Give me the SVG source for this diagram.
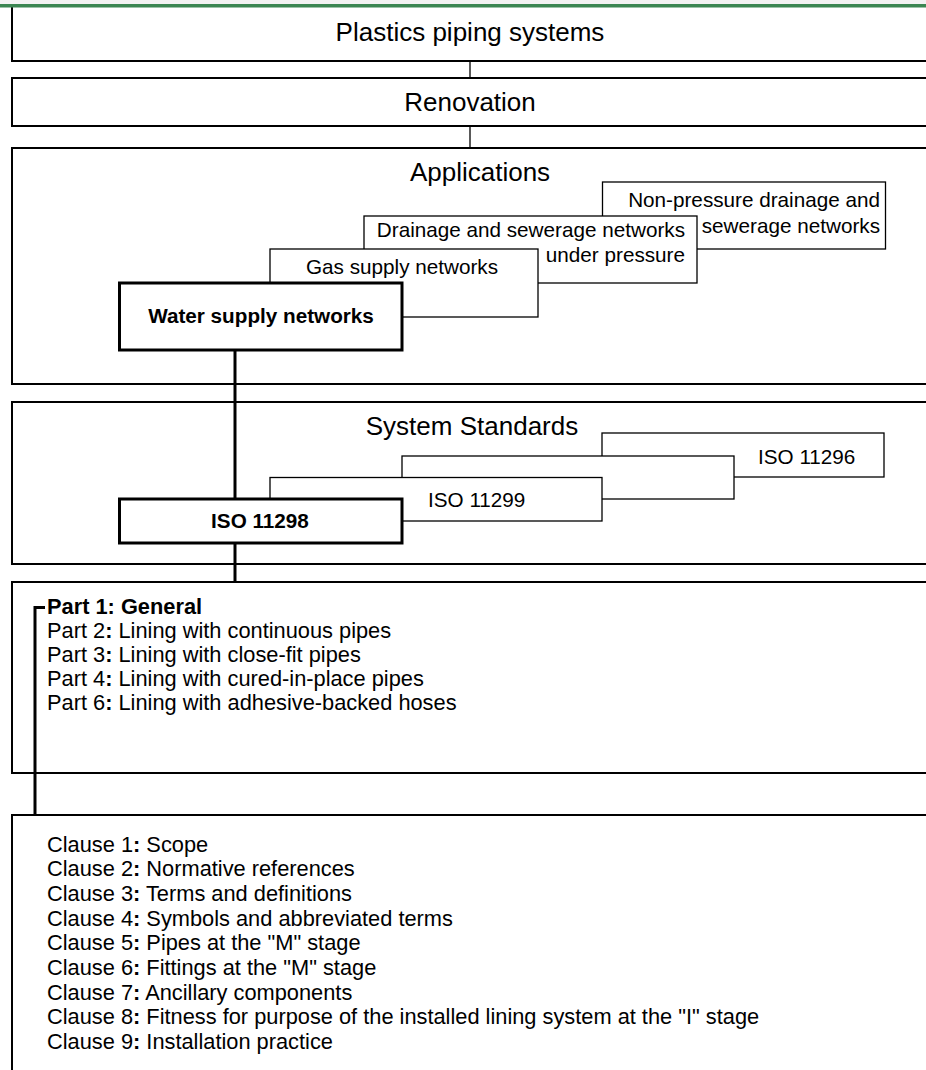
<svg xmlns="http://www.w3.org/2000/svg" width="926" height="1070" viewBox="0 0 926 1070">
<style>
.frame{fill:#fff;stroke:#000;stroke-width:2}
.sub{fill:#fff;stroke:#000;stroke-width:1.3}
.strong{fill:#fff;stroke:#000;stroke-width:3}
.t{font-family:"Liberation Sans",Arial,Helvetica,sans-serif;font-size:20.7px;fill:#000}
.title{font-size:26px}
.list{font-size:21.8px}
.b{font-weight:bold}
.thin{stroke:#000;stroke-width:1.3;fill:none}
.thick{stroke:#000;stroke-width:3;fill:none}
</style>
<rect x="0" y="0" width="926" height="1070" fill="#fff"/>

<g id="plastics-piping-systems">
<rect class="frame" x="12" y="5" width="930" height="56"/>
<text class="t title" x="470" y="41" text-anchor="middle">Plastics piping systems</text>
</g>

<g id="renovation">
<rect class="frame" x="12" y="78" width="930" height="48"/>
<text class="t title" x="470" y="111" text-anchor="middle">Renovation</text>
</g>

<g id="applications">
<rect class="frame" x="12" y="148" width="930" height="236"/>
<text class="t title" x="480" y="181" text-anchor="middle">Applications</text>
</g>

<g id="non-pressure-drainage">
<rect class="sub" x="602.5" y="182" width="283" height="67"/>
<text class="t" x="880" y="207" text-anchor="end">Non-pressure drainage and</text>
<text class="t" x="880" y="233" text-anchor="end">sewerage networks</text>
</g>

<g id="drainage-under-pressure">
<rect class="sub" x="364" y="216" width="333" height="67"/>
<text class="t" x="685" y="237" text-anchor="end">Drainage and sewerage networks</text>
<text class="t" x="685" y="262" text-anchor="end">under pressure</text>
</g>

<g id="gas-supply">
<rect class="sub" x="270" y="249" width="268" height="68"/>
<text class="t" x="402" y="274" text-anchor="middle">Gas supply networks</text>
</g>

<g id="water-supply">
<rect class="strong" x="119.5" y="283" width="282.5" height="67"/>
<text class="t b" x="261" y="323" text-anchor="middle">Water supply networks</text>
</g>

<g id="system-standards">
<rect class="frame" x="12" y="402" width="930" height="162"/>
<text class="t title" x="472" y="435" text-anchor="middle">System Standards</text>
</g>

<g id="iso-11296">
<rect class="sub" x="602" y="433" width="282" height="44"/>
<text class="t" x="758" y="464">ISO 11296</text>
</g>

<g id="iso-back">
<rect class="sub" x="402" y="456" width="332" height="43"/>
</g>

<g id="iso-11299">
<rect class="sub" x="270" y="477.5" width="332" height="43.5"/>
<text class="t" x="428" y="507">ISO 11299</text>
</g>

<g id="iso-11298">
<rect class="strong" x="119.5" y="499" width="282.5" height="44"/>
<text class="t b" x="260" y="528" text-anchor="middle">ISO 11298</text>
</g>

<g id="parts">
<rect class="frame" x="12" y="582" width="930" height="191"/>
<text class="t list" x="47" y="613.5"><tspan class="b">Part 1: General</tspan></text>
<text class="t list" x="47" y="637.5">Part 2<tspan class="b">:</tspan> Lining with continuous pipes</text>
<text class="t list" x="47" y="661.5">Part 3<tspan class="b">:</tspan> Lining with close-fit pipes</text>
<text class="t list" x="47" y="685.5">Part 4<tspan class="b">:</tspan> Lining with cured-in-place pipes</text>
<text class="t list" x="47" y="709.5">Part 6<tspan class="b">:</tspan> Lining with adhesive-backed hoses</text>
</g>

<g id="clauses">
<rect class="frame" x="12" y="815" width="930" height="270"/>
<text class="t list" x="47" y="851.5">Clause 1<tspan class="b">:</tspan> Scope</text>
<text class="t list" x="47" y="876.2">Clause 2<tspan class="b">:</tspan> Normative references</text>
<text class="t list" x="47" y="900.9">Clause 3<tspan class="b">:</tspan> Terms and definitions</text>
<text class="t list" x="47" y="925.6">Clause 4<tspan class="b">:</tspan> Symbols and abbreviated terms</text>
<text class="t list" x="47" y="950.3">Clause 5<tspan class="b">:</tspan> Pipes at the "M" stage</text>
<text class="t list" x="47" y="975">Clause 6<tspan class="b">:</tspan> Fittings at the "M" stage</text>
<text class="t list" x="47" y="999.7">Clause 7<tspan class="b">:</tspan> Ancillary components</text>
<text class="t list" x="47" y="1024.4">Clause 8<tspan class="b">:</tspan> Fitness for purpose of the installed lining system at the "I" stage</text>
<text class="t list" x="47" y="1049.1">Clause 9<tspan class="b">:</tspan> Installation practice</text>
</g>

<g id="connectors">
<line class="thin" x1="470" y1="61" x2="470" y2="78"/>
<line class="thin" x1="470" y1="126" x2="470" y2="148"/>
<line class="thick" x1="235" y1="350" x2="235" y2="499"/>
<line class="thick" x1="235" y1="543" x2="235" y2="582"/>
<polyline class="thick" points="45,607.5 35,607.5 35,815"/>
</g>

<rect x="0" y="0" width="926" height="4" fill="#f2f2f2"/>
<rect x="0" y="4" width="926" height="3.5" fill="#3b8652"/>
</svg>
